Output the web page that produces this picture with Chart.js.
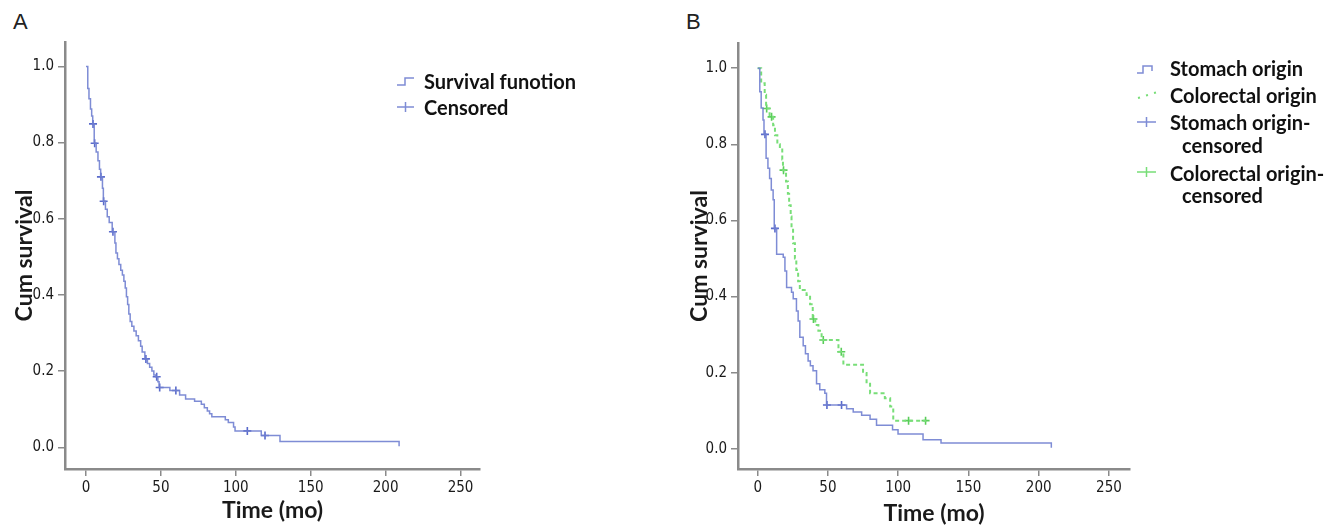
<!DOCTYPE html>
<html>
<head>
<meta charset="utf-8">
<script src="https://cdn.jsdelivr.net/npm/chart.js@4/dist/chart.umd.min.js"></script>
<style>
  html, body { margin: 0; padding: 0; background: #fff; }
  body { width: 1339px; height: 528px; position: relative; overflow: hidden; font-family: Lato, "DejaVu Sans", sans-serif; }
  .pane { position: absolute; top: 0; }
  .tag { position: absolute; top: 9px; font-family: "Liberation Sans", sans-serif; font-size: 22px; color: #222; }
  .lg { position: absolute; font-size: 20px; font-weight: bold; line-height: 24px; color: #111; white-space: nowrap; }
  svg.icons { position: absolute; left: 0; top: 0; pointer-events: none; }
</style>
</head>
<body>
<div class="tag" style="left:13px">A</div>
<div class="tag" style="left:686px">B</div>
<div class="pane" style="left:0;width:660px"><canvas id="chartA" width="660" height="528"></canvas></div>
<div class="pane" style="left:670px;width:669px"><canvas id="chartB" width="669" height="528"></canvas></div>

<svg class="icons" width="1339" height="528">
  <path d="M397 85 H405 V78 H414" fill="none" stroke="rgba(112,128,208,0.9)" stroke-width="1.5"/>
  <path d="M397 107 H414 M405.5 102 V112" fill="none" stroke="rgba(112,128,208,0.9)" stroke-width="1.5"/>
  <path d="M1137 73 H1143 V66 H1152 V71" fill="none" stroke="rgba(112,128,208,0.9)" stroke-width="1.5"/>
  <path d="M1138 98 L1140 97.5 M1146 95.5 L1148 95 M1154 93 L1156 92.5" fill="none" stroke="rgb(120,222,120)" stroke-width="2"/>
  <path d="M1137 122 H1156 M1146.5 117 V127" fill="none" stroke="rgba(112,128,208,0.9)" stroke-width="1.5"/>
  <path d="M1137 172 H1156 M1146.5 167 V177" fill="none" stroke="rgb(120,222,120)" stroke-width="1.5"/>
</svg>
<div id="legendA"></div>
<div id="legendB"></div>

<script>
// panel A: all patients
const timeA = [0, 1.2, 2, 3, 3.8, 4.5, 5.5, 6.8, 8, 9, 9.8, 11, 11.6, 13, 14.2, 15.5, 17.5, 19.3, 20, 21, 22,
  23.2, 24.3, 25.3, 26.2, 27, 27.8, 28.6, 29.5, 30.6, 32, 33.5, 35, 36.5, 37.5, 39.3, 41, 42.5, 44, 45.3, 46.5,
  48, 48.8, 56, 62.5, 66.5, 72.5, 77, 79, 81, 82.5, 84, 93, 95, 98.5, 99.5, 117, 129.5, 209];
const survA = [1.0, .942, .915, .888, .870, .849, .798, .775, .752, .730, .710, .680, .646, .625, .605, .590, .566, .536, .510, .495, .480,
  .465, .452, .436, .418, .395, .375, .350, .330, .318, .305, .293, .280, .265, .250, .232, .220, .210, .200, .190, .185,
  .172, .157, .149, .137, .127, .121, .113, .104, .095, .088, .080, .072, .065, .053, .043, .031, .015, .003];
const censTimeA = [4.7, 5.8, 10, 11.8, 18, 40, 47.2, 49.2, 60, 107.7, 119.5];
const censSurvA = [.849, .798, .710, .646, .566, .232, .185, .157, .149, .043, .031];

// panel B: stomach origin
const timeStomach = [0, 1.5, 2.5, 3.8, 4.5, 6, 7.3, 8.5, 9.7, 11, 11.8, 13.5, 18.2, 19.4, 20.6, 24.1, 25.3, 27.6, 28.8,
  30, 32.4, 34, 35.9, 37.5, 39.4, 41.9, 44.2, 47.8, 49, 63.3, 68, 74, 80, 84.6, 96, 99.9, 117.7, 130.5, 209];
const survStomach = [1.0, .938, .895, .864, .826, .763, .737, .710, .680, .654, .579, .511, .503, .467, .424, .411, .394, .362, .336,
  .293, .271, .250, .231, .218, .205, .171, .155, .146, .115, .105, .097, .088, .078, .062, .050, .039, .024, .015, .003];
const censTimeStomach = [5.2, 12.3, 49.3, 59.7];
const censSurvStomach = [.826, .579, .115, .115];

// panel B: colorectal origin
const timeColorectal = [0, 2.5, 5, 6, 8.5, 11, 12.3, 14, 15.8, 17.5, 18, 20.2, 21.5, 22.4, 23.5, 24.1, 25.2, 26.5, 27.5,
  28.8, 30, 34.8, 37.3, 39.2, 41, 43.2, 45.5, 57.5, 61, 75, 77.5, 80, 90.5, 94.3, 96.5, 120];
const survColorectal = [1.0, .960, .930, .894, .872, .850, .824, .800, .789, .760, .732, .702, .670, .640, .610, .579, .540, .500, .470,
  .440, .417, .404, .380, .341, .325, .310, .286, .255, .221, .199, .175, .146, .133, .111, .074, .074];
const censTimeColorectal = [6.4, 9.9, 18.4, 39.7, 46.7, 59.5, 107.4, 119.5];
const censSurvColorectal = [.894, .872, .732, .341, .286, .255, .074, .074];

const xTicks = [0, 50, 100, 150, 200, 250];
const yTicks = [0, 0.2, 0.4, 0.6, 0.8, 1.0];
const xTitle = "Time (mo)";
const yTitle = "Cum survival";
const legendA = ["Survival funotion", "Censored"];
const legendB = ["Stomach origin", "Colorectal origin", "Stomach origin-", "censored", "Colorectal origin-", "censored"];

const TICK_FONT = '"DejaVu Sans Condensed", "Liberation Sans", sans-serif';
const TITLE_FONT = 'Lato, "DejaVu Sans", sans-serif';
const BLUE = "rgba(112,128,208,0.9)";
const BLUE_MARK = "rgba(80,98,200,0.95)";
const GREEN = "rgb(120,222,120)";
const GREEN_MARK = "rgb(90,205,90)";
const AXIS = "#8a8a8a";

Chart.defaults.font.family = TICK_FONT;
Chart.defaults.color = "#1a1a1a";

function pts(t, s) {
  return t.map((x, i) => ({ x: x, y: s[i] }));
}

function stepSet(t, s, color, dash) {
  return {
    data: pts(t, s),
    borderColor: color,
    borderWidth: dash ? 2 : 1.5,
    borderDash: dash || [],
    stepped: true,
    pointRadius: 0,
    fill: false
  };
}

function censSet(t, s, color) {
  return {
    data: pts(t, s),
    showLine: false,
    pointStyle: "cross",
    pointRadius: 4,
    pointBorderWidth: 1.6,
    pointBorderColor: color,
    pointBackgroundColor: color
  };
}

function opts(c) {
  return {
    responsive: false,
    animation: false,
    layout: { padding: { top: c.top, right: c.right, left: 0, bottom: 0 } },
    plugins: { legend: { display: false }, tooltip: { enabled: false } },
    scales: {
      x: {
        type: "linear",
        min: c.xMin,
        max: c.xMax,
        afterBuildTicks: sc => { sc.ticks = xTicks.map(v => ({ value: v })); },
        afterFit: sc => { sc.height = 59; },
        grid: { display: true, drawOnChartArea: false, drawTicks: true, tickLength: 7, color: AXIS, lineWidth: 1.5 },
        border: { display: true, color: AXIS, width: 2.5 },
        ticks: { font: { size: 15 }, padding: 3, maxRotation: 0, callback: v => String(v) },
        title: { display: true, text: xTitle, font: { family: TITLE_FONT, size: 23, weight: "bold" }, padding: { top: 0, bottom: c.xTitlePad } }
      },
      y: {
        type: "linear",
        min: c.yMin,
        max: c.yMax,
        afterBuildTicks: sc => { sc.ticks = yTicks.map(v => ({ value: v })); },
        afterFit: sc => { sc.width = c.yWidth; },
        grid: { display: true, drawOnChartArea: false, drawTicks: true, tickLength: 7, color: AXIS, lineWidth: 1.5 },
        border: { display: true, color: AXIS, width: 2.5 },
        ticks: { font: { size: 15 }, padding: 4, callback: v => v.toFixed(1) },
        title: { display: true, text: yTitle, font: { family: TITLE_FONT, size: 23, weight: "bold" }, padding: { top: c.yTitlePad, bottom: 0 } }
      }
    }
  };
}

new Chart(document.getElementById("chartA"), {
  type: "line",
  data: {
    datasets: [
      stepSet(timeA, survA, BLUE),
      censSet(censTimeA, censSurvA, BLUE_MARK)
    ]
  },
  options: opts({ top: 42, right: 180, xMin: -14, xMax: 263, yMin: -0.057, yMax: 1.064, yWidth: 65, xTitlePad: 4, yTitlePad: 11 })
});

new Chart(document.getElementById("chartB"), {
  type: "line",
  data: {
    datasets: [
      stepSet(timeStomach, survStomach, BLUE),
      stepSet(timeColorectal, survColorectal, GREEN, [4, 3]),
      censSet(censTimeStomach, censSurvStomach, BLUE_MARK),
      censSet(censTimeColorectal, censSurvColorectal, GREEN_MARK)
    ]
  },
  options: opts({ top: 43, right: 209, xMin: -14, xMax: 265, yMin: -0.053, yMax: 1.066, yWidth: 68, xTitlePad: 1, yTitlePad: 16 })
});

// legends as positioned text
function putLegend(id, items) {
  const box = document.getElementById(id);
  items.forEach(it => {
    const d = document.createElement("div");
    d.className = "lg";
    d.style.left = it[1] + "px";
    d.style.top = (it[2] - 12) + "px";
    d.textContent = it[0];
    box.appendChild(d);
  });
}
putLegend("legendA", [[legendA[0], 424, 81], [legendA[1], 424, 107]]);
putLegend("legendB", [
  [legendB[0], 1170, 68], [legendB[1], 1170, 95],
  [legendB[2], 1170, 122], [legendB[3], 1182, 145],
  [legendB[4], 1170, 173], [legendB[5], 1182, 195]
]);
</script>
</body>
</html>
